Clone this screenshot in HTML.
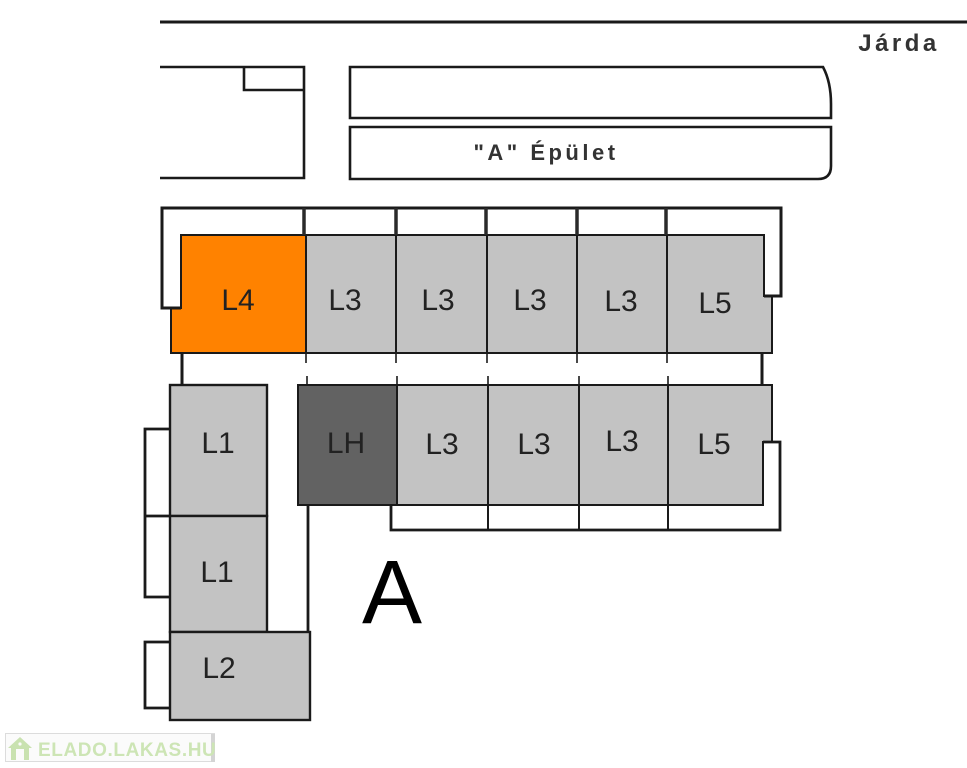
<!DOCTYPE html>
<html><head><meta charset="utf-8"><style>
html,body{margin:0;padding:0;background:#fff;}
svg{display:block;}
</style></head><body>
<svg width="967" height="768" viewBox="0 0 967 768" xmlns="http://www.w3.org/2000/svg">
<rect width="967" height="768" fill="#fff"/>
<g fill="none" stroke="#1a1a1a" stroke-width="2.6" stroke-linejoin="miter">
  <line x1="160" y1="22" x2="967" y2="22" stroke-width="3"/>
  <path d="M160,67 H304 V178 H160"/>
  <path d="M244,67 V90 H304"/>
  <path d="M350,67 H823 Q831,82 831,104 V118 H350 Z"/>
  <path d="M350,127 H831 V166 Q831,179 818,179 H350 Z"/>
</g>
<text x="899" y="51" font-family="Liberation Sans, sans-serif" font-size="24" font-weight="bold" fill="#333" text-anchor="middle" letter-spacing="3.5">Járda</text>
<text x="546" y="160" font-family="Liberation Sans, sans-serif" font-size="22" font-weight="bold" fill="#333" text-anchor="middle" letter-spacing="3.5">"A" Épület</text>

<!-- top row fills -->
<polygon points="306,235 764,235 764,296 772,296 772,353 306,353" fill="#c3c3c3" stroke="#1a1a1a" stroke-width="2"/>
<polygon points="181,235 306,235 306,353 171,353 171,308 181,308" fill="#ff8200" stroke="#1a1a1a" stroke-width="2"/>
<g stroke="#1a1a1a" stroke-width="2">
  <line x1="396" y1="235" x2="396" y2="353"/>
  <line x1="487" y1="235" x2="487" y2="353"/>
  <line x1="577" y1="235" x2="577" y2="353"/>
  <line x1="667" y1="235" x2="667" y2="353"/>
</g>
<g fill="none" stroke="#1a1a1a" stroke-width="3">
  <path d="M181,308 H162 V208 H781 V296 H764"/>
  <line x1="182" y1="353" x2="182" y2="385"/>
  <line x1="762" y1="353" x2="762" y2="385"/>
</g>
<g stroke="#2a2a2a" stroke-width="3.5">
  <line x1="304" y1="208" x2="304" y2="235"/>
  <line x1="396" y1="208" x2="396" y2="235"/>
  <line x1="486" y1="208" x2="486" y2="235"/>
  <line x1="577" y1="208" x2="577" y2="235"/>
  <line x1="666" y1="208" x2="666" y2="235"/>
</g>
<g stroke="#1a1a1a" stroke-width="1.6">
  <line x1="306" y1="353" x2="306" y2="363"/><line x1="307" y1="376" x2="307" y2="385"/>
  <line x1="396" y1="353" x2="396" y2="363"/><line x1="397" y1="376" x2="397" y2="385"/>
  <line x1="487" y1="353" x2="487" y2="363"/><line x1="488" y1="376" x2="488" y2="385"/>
  <line x1="577" y1="353" x2="577" y2="363"/><line x1="579" y1="376" x2="579" y2="385"/>
  <line x1="667" y1="353" x2="667" y2="363"/><line x1="668" y1="376" x2="668" y2="385"/>
</g>

<!-- second row -->
<rect x="298" y="385" width="99" height="120" fill="#626262" stroke="#1a1a1a" stroke-width="2"/>
<polygon points="397,385 772,385 772,442 763,442 763,505 397,505" fill="#c3c3c3" stroke="#1a1a1a" stroke-width="2"/>
<g stroke="#1a1a1a" stroke-width="2">
  <line x1="488" y1="385" x2="488" y2="530"/>
  <line x1="579" y1="385" x2="579" y2="530"/>
  <line x1="668" y1="385" x2="668" y2="530"/>
</g>
<g fill="none" stroke="#1a1a1a" stroke-width="2.8">
  <path d="M763,442 H780 V530 H391 V505"/>
  <path d="M308,505 V632"/>
</g>

<!-- left column -->
<rect x="170" y="385" width="97" height="131" fill="#c3c3c3" stroke="#1a1a1a" stroke-width="2.4"/>
<rect x="170" y="516" width="97" height="116" fill="#c3c3c3" stroke="#1a1a1a" stroke-width="2.4"/>
<rect x="170" y="632" width="140" height="88" fill="#c3c3c3" stroke="#1a1a1a" stroke-width="2.4"/>
<g fill="none" stroke="#1a1a1a" stroke-width="2.8">
  <path d="M170,429 H145 V597 H170"/>
  <path d="M145,516 H170"/>
  <path d="M170,642 H145 V708 H170"/>
</g>

<!-- labels -->
<g font-family="Liberation Sans, sans-serif" font-size="30" fill="#222" text-anchor="middle">
  <text x="238" y="310">L4</text>
  <text x="345" y="310">L3</text>
  <text x="438" y="310">L3</text>
  <text x="530" y="310">L3</text>
  <text x="621" y="311">L3</text>
  <text x="715" y="313">L5</text>
  <text x="346" y="453">LH</text>
  <text x="442" y="454">L3</text>
  <text x="534" y="454">L3</text>
  <text x="622" y="451">L3</text>
  <text x="714" y="454">L5</text>
  <text x="218" y="453">L1</text>
  <text x="217" y="582">L1</text>
  <text x="219" y="678">L2</text>
</g>
<text x="392" y="623" font-family="Liberation Sans, sans-serif" font-size="90" fill="#000" text-anchor="middle">A</text>

<!-- watermark -->
<rect x="5.5" y="733.5" width="209" height="28" fill="#fbfbfb" stroke="#dcdcdc" stroke-width="1"/>
<rect x="211" y="734" width="4" height="28" fill="#d4d4d4"/>
<g fill="#c9e2b0">
  <polygon points="8,748 20,737 32,748 29,748 29,760 11,760 11,748"/>
</g>
<rect x="16" y="749" width="8" height="11" fill="#fbfbfb"/>
<circle cx="20" cy="744" r="1.6" fill="#fbfbfb"/>
<text x="38" y="756" font-family="Liberation Sans, sans-serif" font-size="19" font-weight="bold" fill="#cde5b5" letter-spacing="0.6">ELADO.LAKAS.HU</text>
</svg>
</body></html>
